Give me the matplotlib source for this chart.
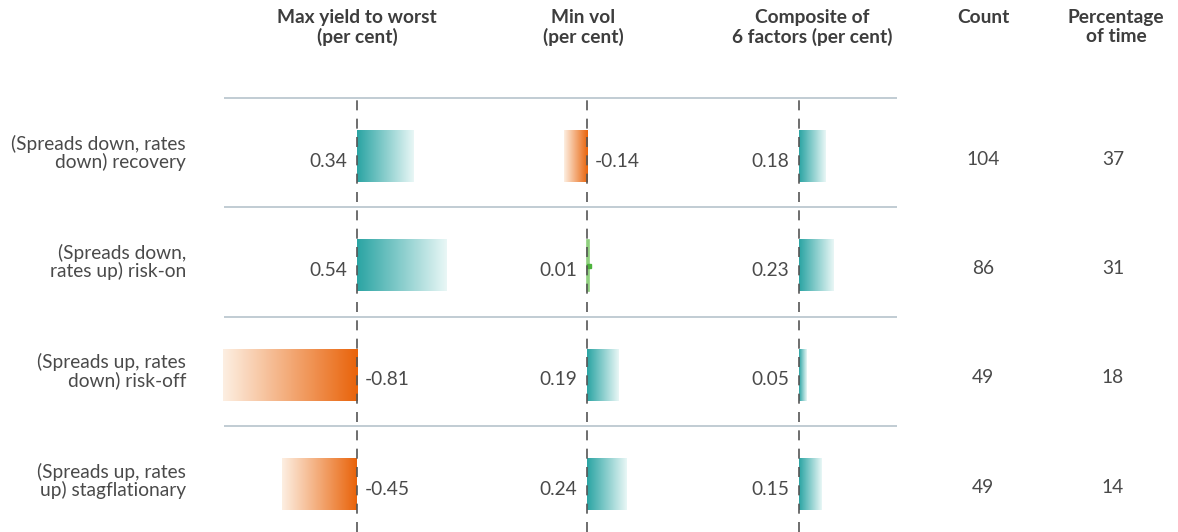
#!/usr/bin/env python3
"""
Factor returns by market regime: gradient bar table
"""

import numpy as np
import matplotlib.pyplot as plt
from matplotlib.colors import LinearSegmentedColormap

plt.rcParams['font.family'] = ['Lato', 'DejaVu Sans']

# data
regimes = ['(Spreads down, rates\ndown) recovery',
           '(Spreads down,\nrates up) risk-on',
           '(Spreads up, rates\ndown) risk-off',
           '(Spreads up, rates\nup) stagflationary']
max_ytw = [0.34, 0.54, -0.81, -0.45]
min_vol = [-0.14, 0.01, 0.19, 0.24]
composite = [0.18, 0.23, 0.05, 0.15]
counts = [104, 86, 49, 49]
pct_time = [37, 31, 18, 14]

headers = ['Max yield to worst\n(per cent)', 'Min vol\n(per cent)',
           'Composite of\n6 factors (per cent)', 'Count', 'Percentage\nof time']

W, H = 1178, 532
fig = plt.figure(figsize=(W / 100, H / 100), dpi=100)

TEXT = '#4a4a4a'
FS = 13.8
teal_cmap = LinearSegmentedColormap.from_list('teal', ['#2aa4a3', '#e9f7f6'])
orange_cmap = LinearSegmentedColormap.from_list('orange', ['#e9630a', '#fdefe2'])
grad = np.linspace(0, 1, 256).reshape(1, -1)

# vertical layout (pixels)
top_px, bot_px = 98, 532
row_px = 109.3
n = len(regimes)
ylim = (-0.5 + (bot_px - top_px) / row_px, -0.5)
bar_h = 0.47
bar_off = 0.035


def frac_x(px):
    return px / W


def frac_y(px):
    return 1 - px / H


# background axis in pixel x units for separators and text columns
bg = fig.add_axes([0, frac_y(bot_px), 1, (bot_px - top_px) / H])
bg.set_xlim(0, W)
bg.set_ylim(*ylim)
bg.axis('off')
for r in range(n):
    bg.plot([224, 897], [r - 0.5, r - 0.5], color='#bcc8d0', lw=1.3,
            solid_capstyle='butt', clip_on=False)

for r, label in enumerate(regimes):
    bg.text(186, r, label, ha='right', va='center', multialignment='right',
            fontsize=FS, color=TEXT, linespacing=1.0)
    bg.text(983, r + 0.06, str(counts[r]), ha='center', va='center',
            fontsize=FS, color=TEXT)
    bg.text(1113, r + 0.06, str(pct_time[r]), ha='center', va='center',
            fontsize=FS, color=TEXT)

# bar columns: (values, zero pixel, px per unit, left px, right px)
columns = [
    (max_ytw, 357, 166, 215, 470),
    (min_vol, 587, 165, 480, 690),
    (composite, 799, 150, 700, 897),
]

for values, zero_px, scale, left_px, right_px in columns:
    ax = fig.add_axes([frac_x(left_px), frac_y(bot_px),
                       (right_px - left_px) / W, (bot_px - top_px) / H])
    xlim = ((left_px - zero_px) / scale, (right_px - zero_px) / scale)
    for r, v in enumerate(values):
        yc = r + bar_off
        if abs(v) < 0.02:
            # tiny value: thin outline bar with a marker
            ax.barh(yc, v, height=bar_h, color='#8fd07e', edgecolor='#8fd07e',
                    lw=1.2, zorder=2)
            ax.plot(v, yc, 's', color='#4db33d', ms=3.5, zorder=3)
        else:
            cmap = teal_cmap if v > 0 else orange_cmap
            ax.imshow(grad, cmap=cmap, aspect='auto', interpolation='bilinear',
                      extent=(0, v, yc + bar_h / 2, yc - bar_h / 2), zorder=2)
        off = 10 / scale
        if v >= 0:
            ax.text(-off, r + 0.08, f'{v:.2f}', ha='right', va='center',
                    fontsize=FS, color=TEXT)
        else:
            ax.text(off * 0.8, r + 0.08, f'{v:.2f}', ha='left', va='center',
                    fontsize=FS, color=TEXT)
    ax.axvline(0, color='#555555', lw=1.2, ls=(0, (6, 5)), zorder=3)
    ax.set_xlim(*xlim)
    ax.set_ylim(*ylim)
    ax.axis('off')

# column headers
header_x = [357, 583, 812, 983, 1116]
for x, h in zip(header_x, headers):
    fig.text(frac_x(x), frac_y(9), h, ha='center', va='top', fontsize=FS,
             fontweight='bold', color='#3d3d3d', linespacing=1.12)

fig.savefig('out.png', dpi=100)
